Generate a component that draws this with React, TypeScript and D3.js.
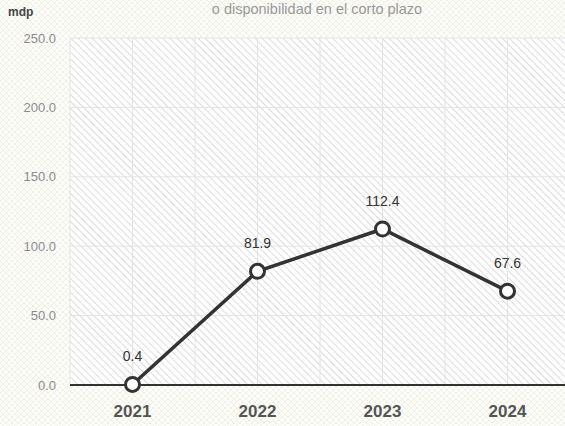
import React, { useRef, useEffect } from "react";
import * as d3 from "d3";

// chart data
const years = ["2021", "2022", "2023", "2024"];
const values = [0.4, 81.9, 112.4, 67.6];
const yTicks = [0, 50, 100, 150, 200, 250];

const W = 565;
const H = 426;
const margin = { top: 38, right: -5, bottom: 41, left: 70 };
const FONT = "Liberation Sans, Arial, sans-serif";

const App = () => {
  const svgRef = useRef<SVGSVGElement>(null);

  useEffect(() => {
    const root = d3.select(svgRef.current);
    root.selectAll("*").remove();

    const chartW = W - margin.left - margin.right;
    const chartH = H - margin.top - margin.bottom;

    // patterns
    const defs = root.append("defs");
    const bg = defs
      .append("pattern")
      .attr("id", "bgPat")
      .attr("width", 6)
      .attr("height", 6)
      .attr("patternUnits", "userSpaceOnUse");
    bg.append("rect").attr("width", 6).attr("height", 6).attr("fill", "#fdfdfa");
    bg.append("path")
      .attr("d", "M0,3 L3,0 L6,3 L3,6 Z")
      .attr("fill", "none")
      .attr("stroke", "#f0f0e6")
      .attr("stroke-width", 1);

    const hatch = defs
      .append("pattern")
      .attr("id", "hatch")
      .attr("width", 5)
      .attr("height", 5)
      .attr("patternUnits", "userSpaceOnUse")
      .attr("patternTransform", "rotate(-45)");
    hatch.append("rect").attr("width", 5).attr("height", 5).attr("fill", "#fff");
    hatch
      .append("line")
      .attr("x1", 0)
      .attr("y1", 0)
      .attr("x2", 0)
      .attr("y2", 5)
      .attr("stroke", "#dcdcdc")
      .attr("stroke-width", 2);

    root.append("rect").attr("width", W).attr("height", H).attr("fill", "url(#bgPat)");

    const svg = root
      .append("g")
      .attr("transform", `translate(${margin.left},${margin.top})`);

    const x = d3.scaleBand().domain(years).range([0, chartW]);
    const y = d3.scaleLinear().domain([0, 250]).range([chartH, 0]);
    const cx = (d: string) => (x(d) as number) + x.bandwidth() / 2;

    svg
      .append("rect")
      .attr("width", chartW)
      .attr("height", chartH)
      .attr("fill", "url(#hatch)");

    // horizontal grid
    svg
      .selectAll(".hgrid")
      .data(yTicks)
      .enter()
      .append("line")
      .attr("x1", 0)
      .attr("x2", chartW)
      .attr("y1", (d) => y(d))
      .attr("y2", (d) => y(d))
      .attr("stroke", "#e4e4e4")
      .attr("stroke-width", 1);

    // vertical grid: band edges and centers
    const vLines: number[] = [];
    years.forEach((d) => {
      vLines.push(x(d) as number);
      vLines.push(cx(d));
    });
    svg
      .selectAll(".vgrid")
      .data(vLines)
      .enter()
      .append("line")
      .attr("x1", (d) => d)
      .attr("x2", (d) => d)
      .attr("y1", 0)
      .attr("y2", chartH)
      .attr("stroke", "#e4e4e4")
      .attr("stroke-width", 1);

    // y tick labels
    svg
      .selectAll(".ytick")
      .data(yTicks)
      .enter()
      .append("text")
      .attr("x", -14)
      .attr("y", (d) => y(d))
      .attr("dy", "0.35em")
      .attr("text-anchor", "end")
      .attr("font-family", FONT)
      .attr("font-size", 13)
      .attr("fill", "#8c8c8c")
      .text((d) => d3.format(".1f")(d));

    // baseline
    svg
      .append("line")
      .attr("x1", 0)
      .attr("x2", chartW)
      .attr("y1", chartH)
      .attr("y2", chartH)
      .attr("stroke", "#333")
      .attr("stroke-width", 2);

    // x labels
    svg
      .selectAll(".xlab")
      .data(years)
      .enter()
      .append("text")
      .attr("x", cx)
      .attr("y", chartH + 32)
      .attr("text-anchor", "middle")
      .attr("font-family", FONT)
      .attr("font-size", 17)
      .attr("font-weight", "bold")
      .attr("fill", "#555")
      .text((d) => d);

    const pts = years.map((d, i) => ({ year: d, value: values[i] }));

    const line = d3
      .line<{ year: string; value: number }>()
      .x((d) => cx(d.year))
      .y((d) => y(d.value));

    svg
      .append("path")
      .datum(pts)
      .attr("d", line)
      .attr("fill", "none")
      .attr("stroke", "#333")
      .attr("stroke-width", 3.5);

    svg
      .selectAll(".dot")
      .data(pts)
      .enter()
      .append("circle")
      .attr("cx", (d) => cx(d.year))
      .attr("cy", (d) => y(d.value))
      .attr("r", 7)
      .attr("fill", "#fff")
      .attr("stroke", "#333")
      .attr("stroke-width", 3);

    svg
      .selectAll(".vlab")
      .data(pts)
      .enter()
      .append("text")
      .attr("x", (d) => cx(d.year))
      .attr("y", (d) => y(d.value) - 23)
      .attr("text-anchor", "middle")
      .attr("font-family", FONT)
      .attr("font-size", 14)
      .attr("fill", "#333")
      .text((d) => d3.format(".1f")(d.value));

    // unit label and title
    root
      .append("text")
      .attr("x", 8)
      .attr("y", 16)
      .attr("font-family", FONT)
      .attr("font-size", 12)
      .attr("font-weight", "bold")
      .attr("fill", "#444")
      .text("mdp");

    root
      .append("text")
      .attr("x", 317)
      .attr("y", 14)
      .attr("text-anchor", "middle")
      .attr("font-family", FONT)
      .attr("font-size", 14.5)
      .attr("fill", "#999")
      .text("o disponibilidad en el corto plazo");
  }, []);

  return (
    <svg
      ref={svgRef}
      width={W}
      height={H}
      style={{ position: "absolute", left: 0, top: 0 }}
    />
  );
};

export default App;
